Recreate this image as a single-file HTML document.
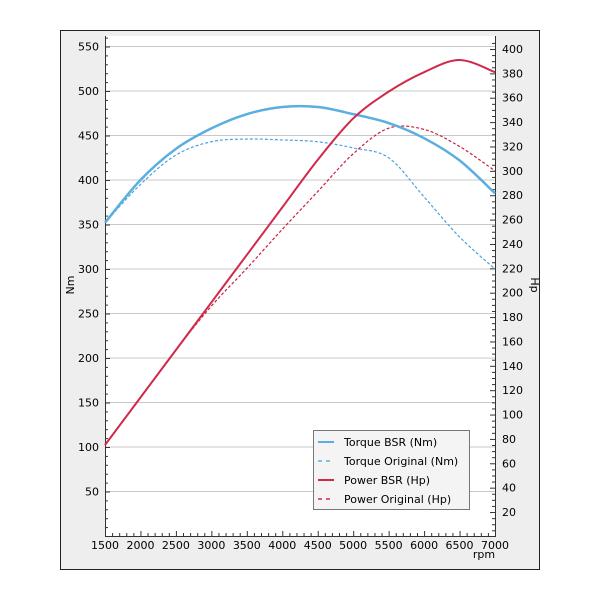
<!DOCTYPE html>
<html><head><meta charset="utf-8"><style>
body{margin:0;background:#fff;}
svg{display:block;font-family:"DejaVu Sans","Liberation Sans",sans-serif;}
</style></head><body>
<svg id="chart" width="600" height="600">
<rect x="60.5" y="30.5" width="479" height="539" fill="#eeeeee" stroke="#222"/>
<rect x="105" y="36" width="390" height="500" fill="#fff"/>
<g id="grid"></g><g id="axes"></g><g id="series"></g>
<text x="74" y="285" font-size="11" transform="rotate(-90 74 285)" text-anchor="middle">Nm</text>
<text x="531" y="285" font-size="11" transform="rotate(90 531 285)" text-anchor="middle">Hp</text>
<text x="484" y="558" font-size="11" text-anchor="middle">rpm</text>
<g>
<rect x="313.5" y="430.5" width="156" height="79" fill="#f4f4f4" stroke="#777"/>
<line x1="318" y1="442" x2="334" y2="442" stroke="#5aaee0" stroke-width="2"/>
<text x="344" y="446" font-size="11">Torque BSR (Nm)</text>
<line x1="318" y1="461" x2="334" y2="461" stroke="#5aaee0" stroke-width="1.5" stroke-dasharray="4,4"/>
<text x="344" y="465" font-size="11">Torque Original (Nm)</text>
<line x1="318" y1="480" x2="334" y2="480" stroke="#d0294a" stroke-width="2"/>
<text x="344" y="484" font-size="11">Power BSR (Hp)</text>
<line x1="318" y1="499" x2="334" y2="499" stroke="#d0294a" stroke-width="1.5" stroke-dasharray="4,4"/>
<text x="344" y="503" font-size="11">Power Original (Hp)</text>
</g>
</svg>
<script>
const rpm = [1500,2000,2500,3000,3500,4000,4500,5000,5500,6000,6500,7000];
const torqueBSR = [352,400,435,458,474,482,482,474,464,447,422,385];
const torqueOrig = [352,395,428,443,446,445,443,436,425,381,336,300];
const powerBSR = [75,114,153,192,231,270,309,343,365,381,391,381];
const powerOrig = [75,114,153,189,220,252,283,314,335,334,320,300];
const xTicks = [1500,2000,2500,3000,3500,4000,4500,5000,5500,6000,6500,7000];
const nmTicks = [50,100,150,200,250,300,350,400,450,500,550];
const hpTicks = [20,40,60,80,100,120,140,160,180,200,220,240,260,280,300,320,340,360,380,400];
const NS="http://www.w3.org/2000/svg";
const X=v=>105+(v-1500)*390/5500;
const YN=v=>536-v*0.89;
const YH=v=>536.4-v*1.2185;
function mk(tag,attrs,parent){const e=document.createElementNS(NS,tag);for(const k in attrs)e.setAttribute(k,attrs[k]);document.getElementById(parent).appendChild(e);return e;}
nmTicks.forEach(v=>{
 const g=mk('line',{x1:105,x2:495,y1:YN(v),y2:YN(v),stroke:'#c8c8c8'},'grid');
 
 
 const t=mk('text',{x:99,y:YN(v)+4,'font-size':11,'text-anchor':'end'},'axes');t.textContent=v;
 
 
});
for(let v=10;v<=560;v+=10){mk('line',{x1:105,x2:v%50?108:110,y1:YN(v)+.5,y2:YN(v)+.5,stroke:'#333'},'axes');}
hpTicks.forEach(v=>{
 const t=mk('text',{x:502,y:YH(v)+4,'font-size':11},'axes');t.textContent=v;
 
 
});
for(let v=5;v<=405;v+=5){mk('line',{x1:495,x2:v%20?492:490,y1:YH(v)+.5,y2:YH(v)+.5,stroke:'#333'},'axes');}
xTicks.forEach(v=>{
 const t=mk('text',{x:X(v),y:549,'font-size':11,'text-anchor':'middle'},'axes');t.textContent=v;
 
 
});
for(let v=1500;v<=7000;v+=100){mk('line',{x1:X(v)+.5,x2:X(v)+.5,y1:536,y2:v%500?533:531,stroke:'#333'},'axes');}
mk('line',{x1:105.5,x2:105.5,y1:36,y2:536,stroke:'#333'},'axes');
mk('line',{x1:495.5,x2:495.5,y1:36,y2:536,stroke:'#333'},'axes');
mk('line',{x1:105,x2:496,y1:536.5,y2:536.5,stroke:'#333'},'axes');
function path(vals,Y){let p=[];vals.forEach((v,i)=>p.push([X(rpm[i]),Y(v)]));let d='M'+p[0];for(let i=0;i<p.length-1;i++){const p0=p[i-1]||p[i],p1=p[i],p2=p[i+1],p3=p[i+2]||p2;d+=` C${p1[0]+(p2[0]-p0[0])/6},${p1[1]+(p2[1]-p0[1])/6} ${p2[0]-(p3[0]-p1[0])/6},${p2[1]-(p3[1]-p1[1])/6} ${p2[0]},${p2[1]}`;}return d;}
[[torqueOrig,YN,'#4aa3dd',1.2,'3,2','torque-original-line'],[powerOrig,YH,'#c8203f',1.2,'3,2','power-original-line'],[torqueBSR,YN,'#5aaee0',2.5,'','torque-bsr-line'],[powerBSR,YH,'#d0294a',2,'','power-bsr-line']].forEach(s=>{
 const e=mk('path',{d:path(s[0],s[1]),fill:'none',stroke:s[2],'stroke-width':s[3],'stroke-dasharray':s[4]||'none'},'series');
 
 
});
</script>
</body></html>
